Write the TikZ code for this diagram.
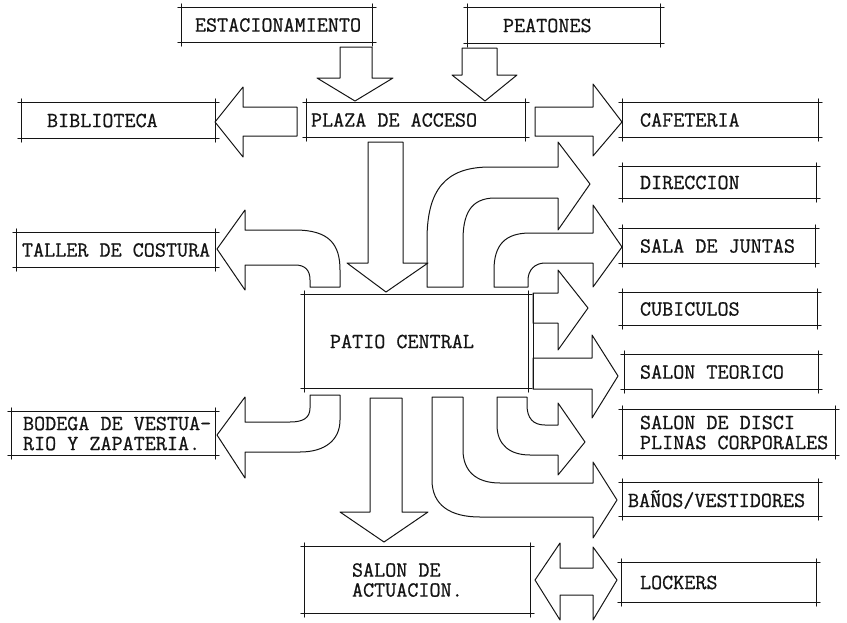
\documentclass[tikz,border=0pt]{standalone}
\usepackage{fontspec}
\usepackage{tikz}
\usetikzlibrary{positioning, calc}
\definecolor{ink}{RGB}{20,20,20}
\newfontfamily\typefont{Latin Modern Mono}[FakeBold=0.8]
\newcommand{\typed}{\fontsize{21.5}{20}\selectfont\typefont}

\begin{document}
\begin{tikzpicture}[
  x=1pt, y=-1pt,
  edge/.style={draw=ink, line width=1pt, line cap=round},
  room/.style={inner sep=0pt, append after command={\pgfextra{\let\thisroom\tikzlastnode
    \draw[edge] ($(\thisroom.north west)+(-4,0)$) -- ($(\thisroom.north east)+(4,0)$);
    \draw[edge] ($(\thisroom.south west)+(-4,0)$) -- ($(\thisroom.south east)+(4,0)$);
    \draw[edge] ($(\thisroom.north west)+(0,-4)$) -- ($(\thisroom.south west)+(0,4)$);
    \draw[edge] ($(\thisroom.north east)+(0,-4)$) -- ($(\thisroom.south east)+(0,4)$);}}},
  tag/.style={inner sep=0pt, font=\typed, text=ink, align=left},
  blk/.style={draw=ink, line width=1pt, line join=round}]

  \useasboundingbox (0,0) rectangle (847,622);

  % --- arrivals and the access plaza
  \node[room, minimum width=190pt, minimum height=34pt] (est) at (277,25) {};
  \node[tag, right=13pt of est.west] (estT) {ESTACIONAMIENTO};
  \node[room, minimum width=192pt, minimum height=35pt] (pea) at (564,25.5) {};
  \node[tag, right=35pt of pea.west] (peaT) {PEATONES};
  \node[room, minimum width=218pt, minimum height=34pt] (plz) at (416,120) {};
  \node[tag, right=4pt of plz.west] (plzT) {PLAZA DE ACCESO};
  \node[room, minimum width=193pt, minimum height=35pt] (bib) at (118.5,120.5) {};
  \node[tag, right=25pt of bib.west] (bibT) {BIBLIOTECA};
  \node[room, minimum width=195pt, minimum height=34pt] (caf) at (720.5,120) {};
  \node[tag, right=17pt of caf.west] (cafT) {CAFETERIA};

  % --- the patio and the rooms round it
  \node[room, minimum width=223pt, minimum height=93pt] (pat) at (416.5,341.5) {};
  \node[tag, right=25pt of pat.west] (patT) {PATIO CENTRAL};
  \node[room, minimum width=198pt, minimum height=34pt] (tal) at (116,250) {};
  \node[tag, right=5pt of tal.west] (talT) {TALLER DE COSTURA};
  \node[room, minimum width=203pt, minimum height=43pt] (bod) at (113.5,433.5) {};
  \node[tag, right=11pt of bod.west] (bodT) {BODEGA DE VESTUA-\\RIO Y ZAPATERIA.};
  \node[room, minimum width=225pt, minimum height=66pt] (act) at (417.5,580) {};
  \node[tag, right=47pt of act.west] (actT) {SALON DE\\ACTUACION.};
  \node[room, minimum width=193pt, minimum height=31pt] (dir) at (719.5,182.5) {};
  \node[tag, right=17pt of dir.west] (dirT) {DIRECCION};
  \node[room, minimum width=192pt, minimum height=34pt] (jun) at (719,246) {};
  \node[tag, right=17pt of jun.west] (junT) {SALA DE JUNTAS};
  \node[room, minimum width=194pt, minimum height=32pt] (cub) at (720,309) {};
  \node[tag, right=17pt of cub.west] (cubT) {CUBICULOS};
  \node[room, minimum width=193pt, minimum height=34pt] (teo) at (721.5,372) {};
  \node[tag, right=15pt of teo.west] (teoT) {SALON TEORICO};
  \node[room, minimum width=212pt, minimum height=45pt] (dis) at (729,432.5) {};
  \node[tag, right=17pt of dis.west] (disT) {SALON DE DISCI\\PLINAS CORPORALES};
  \node[room, minimum width=195pt, minimum height=33pt] (ban) at (720.5,499.5) {};
  \node[tag, right=5pt of ban.west] (banT) {BA\~NOS/VESTIDORES};
  \node[room, minimum width=194pt, minimum height=39pt] (lck) at (719,582.5) {};
  \node[tag, right=18pt of lck.west] (lckT) {LOCKERS};

  % --- straight block arrows
  \draw[blk] (340,47) -- (340,78) -- (317,78) -- (355,101) -- (393,78) -- (372,78) -- (372,47) -- cycle;
  \draw[blk] (462,48) -- (462,75) -- (452,75) -- (485,101) -- (517,75) -- (497,75) -- (497,48) -- cycle;
  \draw[blk] (297,107) -- (243,107) -- (243,87) -- (215,122) -- (243,157) -- (243,136) -- (297,136) -- cycle;
  \draw[blk] (535,107) -- (593,107) -- (593,84) -- (622,122) -- (593,156) -- (593,136) -- (535,136) -- cycle;
  \draw[blk] (368,142) -- (368,263) -- (347,263) -- (386,292) -- (428,263) -- (403,263) -- (403,142) -- cycle;
  \draw[blk] (533,293) -- (558,293) -- (558,270) -- (588,308) -- (558,350) -- (558,323) -- (533,323) -- cycle;
  \draw[blk] (533,358) -- (592,358) -- (592,335) -- (618,376) -- (592,418) -- (592,389) -- (533,389) -- cycle;
  \draw[blk] (533,293) -- (533,389);
  \draw[blk] (370,398) -- (370,512) -- (340,512) -- (384,542) -- (428,512) -- (402,512) -- (402,398) -- cycle;
  \draw[blk] (535,580) -- (560,543) -- (560,568) -- (593,568) -- (593,547) -- (617,580)
    -- (593,620) -- (593,595) -- (560,595) -- (560,620) -- cycle;

  % --- bent block arrows leaving the patio
  \draw[blk] (245,230) -- (295,230) .. controls (330,230) and (340,245) .. (340,270) -- (340,287)
    -- (310,287) -- (310,280) .. controls (310,270) and (305,265) .. (295,265) -- (245,265)
    -- (245,290) -- (217,249) -- (245,210) -- cycle;
  \draw[blk] (427,287) -- (427,240) .. controls (427,190) and (445,167) .. (490,167) -- (558,167)
    -- (558,142) -- (590,184) -- (558,230) -- (558,198) -- (495,198)
    .. controls (470,198) and (463,215) .. (463,240) -- (463,287) -- cycle;
  \draw[blk] (494,287) -- (494,270) .. controls (494,245) and (505,233) .. (530,233) -- (593,233)
    -- (593,205) -- (622,247) -- (593,287) -- (593,263) -- (545,263)
    .. controls (535,263) and (528,270) .. (528,280) -- (528,287) -- cycle;
  \draw[blk] (497,397) -- (497,425) .. controls (497,445) and (510,455) .. (530,455) -- (558,455)
    -- (558,475) -- (585,442) -- (558,403) -- (558,425) -- (545,425)
    .. controls (533,425) and (527,418) .. (527,405) -- (527,397) -- cycle;
  \draw[blk] (432,397) -- (432,480) .. controls (432,505) and (450,517) .. (480,517) -- (593,517)
    -- (593,538) -- (617,500) -- (593,462) -- (593,483) -- (500,483)
    .. controls (475,483) and (463,470) .. (463,450) -- (463,397) -- cycle;
  \draw[blk] (310,395) -- (310,408) .. controls (310,418) and (303,422) .. (290,422) -- (245,422)
    -- (245,397) -- (217,435) -- (245,478) -- (245,452) -- (300,452)
    .. controls (325,452) and (340,440) .. (340,420) -- (340,395) -- cycle;
\end{tikzpicture}
\end{document}
